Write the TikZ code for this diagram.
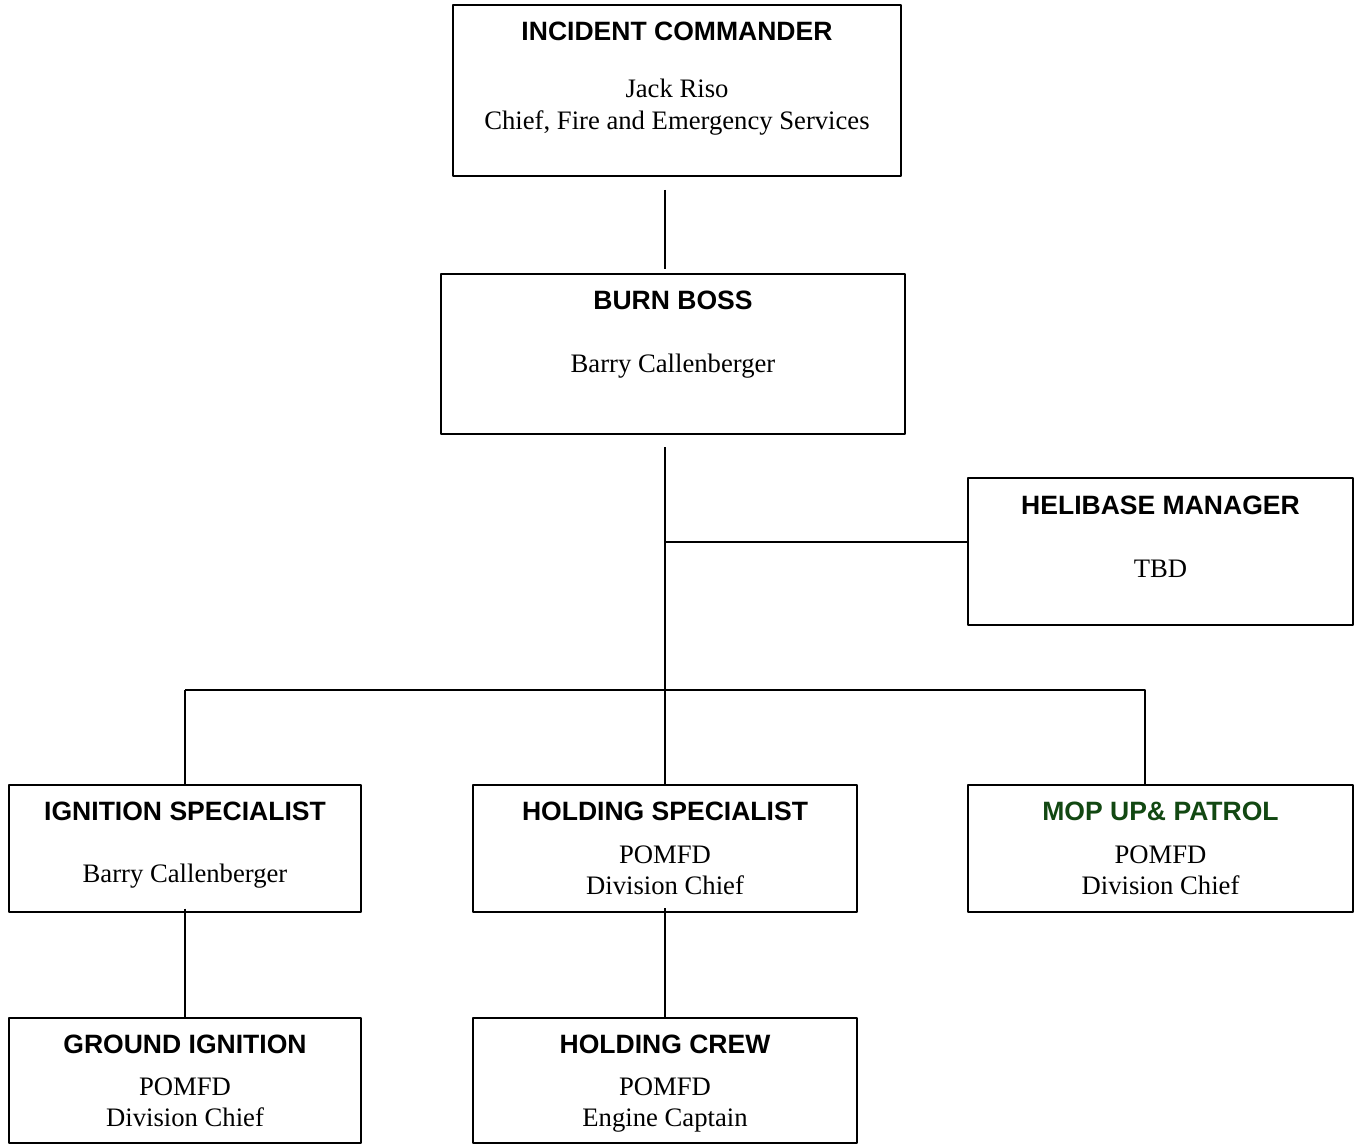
\documentclass[tikz,border=0pt]{standalone}
\usepackage{fontspec}
\setmainfont{Liberation Serif}
\setsansfont{Liberation Sans}
\usetikzlibrary{fit}
\definecolor{mopgreen}{RGB}{18,72,18}
\tikzset{
  box/.style={draw, line width=1.1pt, inner sep=0pt},
  ttl/.style={anchor=base, inner sep=0pt, font=\sffamily\bfseries\fontsize{19.9}{24}\selectfont},
  txt/.style={anchor=base, inner sep=0pt, font=\fontsize{20}{24}\selectfont},
  link/.style={line width=1.1pt}
}
\begin{document}
\begin{tikzpicture}[x=0.75pt, y=-0.75pt, line join=round]
\useasboundingbox (0,0) rectangle (1354,1145);
% boxes
\node[box, fit={(453,5)(901,176)}] (ic) {};
\node[box, fit={(441,274)(905,434)}] (bb) {};
\node[box, fit={(968,478)(1353,625)}] (hm) {};
\node[box, fit={(9,785)(361,912)}] (is) {};
\node[box, fit={(473,785)(857,912)}] (hs) {};
\node[box, fit={(968,785)(1353,912)}] (mp) {};
\node[box, fit={(9,1018)(361,1143)}] (gi) {};
\node[box, fit={(473,1018)(857,1143)}] (hc) {};
% texts
\node[ttl] (ic-t) at (677,41) {INCIDENT COMMANDER};
\node[txt] (ic-a) at (677,98) {Jack Riso};
\node[txt] (ic-b) at (677,130) {Chief, Fire and Emergency Services};
\node[ttl] (bb-t) at (673,310) {BURN BOSS};
\node[txt] (bb-a) at (673,372) {Barry Callenberger};
\node[ttl] (hm-t) at (1160.5,514) {HELIBASE MANAGER};
\node[txt] (hm-a) at (1160.5,577) {TBD};
\node[ttl] (is-t) at (185,820) {IGNITION SPECIALIST};
\node[txt] (is-a) at (185,882) {Barry Callenberger};
\node[ttl] (hs-t) at (665,820) {HOLDING SPECIALIST};
\node[txt] (hs-a) at (665,863) {POMFD};
\node[txt] (hs-b) at (665,894) {Division Chief};
\node[ttl, text=mopgreen] (mp-t) at (1160.5,820) {MOP UP\& PATROL};
\node[txt] (mp-a) at (1160.5,863) {POMFD};
\node[txt] (mp-b) at (1160.5,894) {Division Chief};
\node[ttl] (gi-t) at (185,1053) {GROUND IGNITION};
\node[txt] (gi-a) at (185,1095) {POMFD};
\node[txt] (gi-b) at (185,1126) {Division Chief};
\node[ttl] (hc-t) at (665,1053) {HOLDING CREW};
\node[txt] (hc-a) at (665,1095) {POMFD};
\node[txt] (hc-b) at (665,1126) {Engine Captain};
% connectors
\coordinate (top) at (665,190);
\coordinate (mid) at (665,447);
\coordinate (heli) at (665,542);
\coordinate (bar) at (665,690);
\draw[link, shorten >=3pt] (top) -- (top|-bb.north);
\draw[link] (mid) -- (mid|-hs.north);
\draw[link] (heli) -- (heli-|hm.west);
\draw[link] (bar-|is.north) -- (bar-|1145,0) -- (1145,0|-mp.north);
\draw[link] (is.north) -- (is.north|-bar);
\draw[link] (is.south) ++(0,-4) -- (is.south|-gi.north);
\draw[link] (665,908) -- (665,0|-hc.north);
\end{tikzpicture}
\end{document}
